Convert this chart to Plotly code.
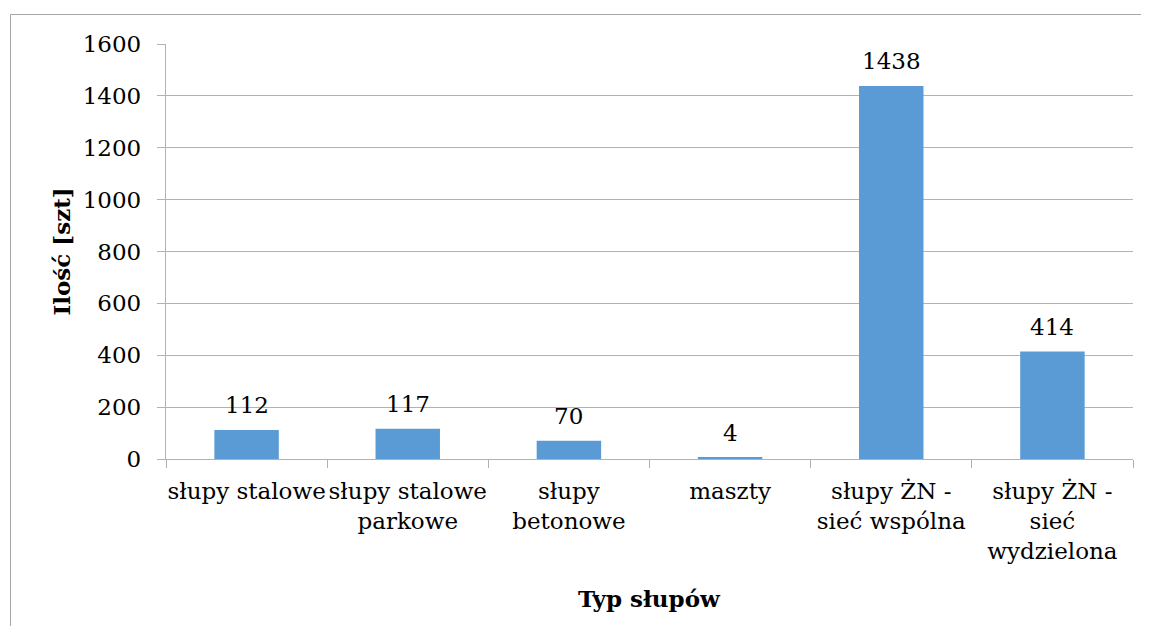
import plotly.graph_objects as go

categories = ["słupy stalowe", "słupy stalowe<br>parkowe", "słupy<br>betonowe",
              "maszty", "słupy ŻN -<br>sieć wspólna", "słupy ŻN -<br>sieć<br>wydzielona"]
values = [112, 117, 70, 4, 1438, 414]
y_ticks = [0, 200, 400, 600, 800, 1000, 1200, 1400, 1600]
x_title = "Typ słupów"
y_title = "Ilość [szt]"

OFF = 8  # page body margin
W, H = 1149 - 2 * OFF, 634 - 2 * OFF
L, R, T, B = 166 - OFF, 1133 - OFF, 44 - OFF, 459 - OFF
FONT = "DejaVu Serif"
FS = 23
GREY = "#b2b2b2"

fig = go.Figure()
fig.add_trace(go.Bar(
    x=categories, y=values,
    marker=dict(color="#5b9bd5", line=dict(width=0)),
    width=0.4,
    hoverinfo="x+y",
))

for c, v in zip(categories, values):
    fig.add_annotation(x=c, y=v, text=str(v), showarrow=False,
                       yanchor="bottom", yshift=10,
                       font=dict(family=FONT, size=FS, color="#000"))

pw, ph = R - L, B - T
def px2paper_x(px): return (px - OFF - L) / pw
def px2paper_y(py): return (B - (py - OFF)) / ph

fig.add_annotation(xref="paper", yref="paper", x=0.5, y=px2paper_y(598),
                   text="<b>" + x_title + "</b>", showarrow=False,
                   xanchor="center", yanchor="middle",
                   font=dict(family=FONT, size=FS, color="#000"))
fig.add_annotation(xref="paper", yref="paper", x=px2paper_x(61), y=0.5,
                   text="<b>" + y_title + "</b>", showarrow=False, textangle=-90,
                   xanchor="center", yanchor="middle",
                   font=dict(family=FONT, size=FS, color="#000"))

# chart-area border (top and left edges visible in the reference)
fig.add_shape(type="line", xref="paper", yref="paper",
              x0=px2paper_x(10.5), x1=px2paper_x(1160),
              y0=px2paper_y(14.5), y1=px2paper_y(14.5),
              line=dict(color="#a6a6a6", width=1), layer="below")
fig.add_shape(type="line", xref="paper", yref="paper",
              x0=px2paper_x(10.5), x1=px2paper_x(10.5),
              y0=px2paper_y(14.5), y1=px2paper_y(660),
              line=dict(color="#a6a6a6", width=1), layer="below")

fig.update_layout(
    width=W, height=H,
    margin=dict(l=L, r=W - R, t=T, b=H - B, autoexpand=False),
    paper_bgcolor="white", plot_bgcolor="white",
    showlegend=False,
    font=dict(family=FONT, size=FS, color="#000"),
    xaxis=dict(
        type="category", tickson="boundaries", ticks="outside", ticklen=8,
        tickcolor=GREY, tickwidth=1.3,
        showline=True, linecolor=GREY, linewidth=1.3,
        showgrid=False, tickfont=dict(family=FONT, size=FS, color="#000"),
        tickangle=0, automargin=False, ticklabelstandoff=11,
    ),
    yaxis=dict(
        range=[0, 1600], tickvals=y_ticks, ticks="outside", ticklen=8,
        tickcolor=GREY, tickwidth=1.3,
        showline=True, linecolor=GREY, linewidth=1.3,
        showgrid=True, gridcolor=GREY, gridwidth=1.3, zeroline=False,
        tickfont=dict(family=FONT, size=FS, color="#000"), automargin=False,
        ticklabelstandoff=11,
    ),
)

fig.write_html("out.html")
